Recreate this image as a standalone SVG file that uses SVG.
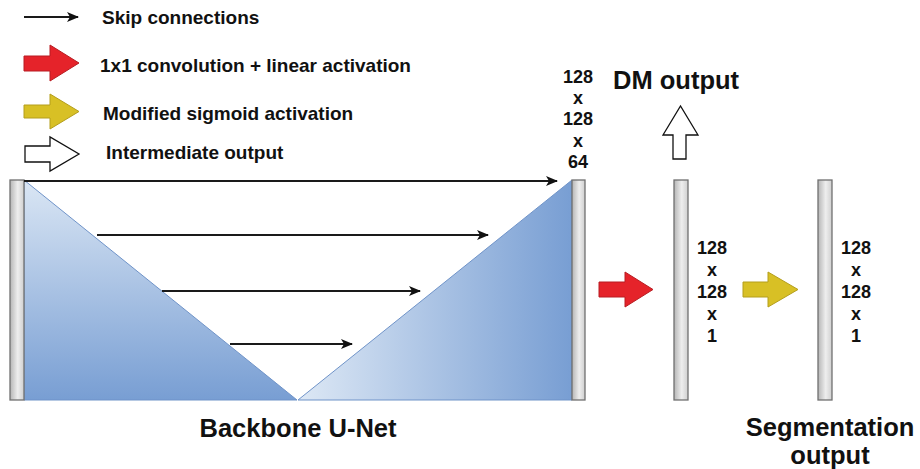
<svg xmlns="http://www.w3.org/2000/svg" width="920" height="469" viewBox="0 0 920 469">
<defs>
<style>
.t{font-family:"Liberation Sans",Arial,sans-serif;font-weight:bold;fill:#111}
.leg{font-size:19px}
.dim{font-size:18px;text-anchor:middle}
.big{font-size:25.5px}
.skip{stroke:#1a1a1a;stroke-width:2;fill:none}
.bar{fill:url(#gBar);stroke:#707070;stroke-width:1.3}
.red{fill:#e5232a;stroke:#b81d22;stroke-width:1}
.yel{fill:#d8c025;stroke:#b49e1c;stroke-width:1}
.wht{fill:#fff;stroke:#111;stroke-width:1.3}
.tri{stroke:#6f93c8;stroke-width:1}
</style>
<linearGradient id="gBar" x1="0" y1="0" x2="1" y2="0">
<stop offset="0" stop-color="#b5b5b5"/>
<stop offset="0.55" stop-color="#eeeeee"/>
<stop offset="1" stop-color="#cfcfcf"/>
</linearGradient>
<linearGradient id="gDown" x1="0" y1="0" x2="0" y2="1">
<stop offset="0" stop-color="#dae6f4"/>
<stop offset="1" stop-color="#789ed3"/>
</linearGradient>
<linearGradient id="gUp" x1="0" y1="0" x2="1" y2="0">
<stop offset="0" stop-color="#dde8f5"/>
<stop offset="1" stop-color="#789ed3"/>
</linearGradient>
<marker id="ah" markerWidth="12" markerHeight="10" refX="11" refY="5" orient="auto" markerUnits="userSpaceOnUse">
<path d="M0,0 L12,5 L0,10 L3,5 Z" fill="#111"/>
</marker>
</defs>
<rect width="920" height="469" fill="#fff"/>

<g id="legend">
<line class="skip" x1="24" y1="17" x2="78" y2="17" marker-end="url(#ah)"/>
<text class="t leg" x="102" y="24">Skip connections</text>
<path class="red" d="M24,56 H50 V45 L79,63 L50,81 V71 H24 Z"/>
<text class="t leg" x="100" y="72">1x1 convolution + linear activation</text>
<path class="yel" d="M24,105 H50 V94 L79,111.5 L50,129 V118 H24 Z"/>
<text class="t leg" x="103" y="120">Modified sigmoid activation</text>
<path class="wht" d="M25,146 H50 V137 L79,154 L50,171 V162 H25 Z"/>
<text class="t leg" x="106" y="159">Intermediate output</text>
</g>

<g id="unet">
<polygon class="tri" points="24,180 24,400 297,400" fill="url(#gDown)"/>
<polygon class="tri" points="298,400 572,180 572,400" fill="url(#gUp)"/>
<rect class="bar" x="10" y="180" width="14" height="220"/>
<rect class="bar" x="572" y="180" width="13" height="220"/>
<text class="t big" x="298" y="437" text-anchor="middle">Backbone U-Net</text>
</g>

<g id="connectors">
<line class="skip" x1="24" y1="181" x2="557" y2="181" marker-end="url(#ah)"/>
<line class="skip" x1="97" y1="235" x2="488" y2="235" marker-end="url(#ah)"/>
<line class="skip" x1="162" y1="291" x2="420" y2="291" marker-end="url(#ah)"/>
<line class="skip" x1="230" y1="344" x2="352" y2="344" marker-end="url(#ah)"/>
<path id="conv-arrow" class="red" d="M599,282 H625 V272 L653,289.5 L625,307 V297 H599 Z"/>
<path id="sig-arrow" class="yel" d="M743,282 H768 V272 L798,289.5 L768,307 V297 H743 Z"/>
<path id="dm-arrow" class="wht" d="M673,159 V135 H663 L680.5,106 L698,135 H686 V159 Z"/>
</g>

<g id="unet-dims">
<text class="t dim" x="578" y="83">128</text>
<text class="t dim" x="578" y="104">x</text>
<text class="t dim" x="578" y="125">128</text>
<text class="t dim" x="578" y="146.5">x</text>
<text class="t dim" x="578" y="168">64</text>
</g>

<g id="dm-layer">
<rect class="bar" x="674" y="180" width="14" height="220"/>
<text class="t dim" x="712" y="254">128</text>
<text class="t dim" x="712" y="276">x</text>
<text class="t dim" x="712" y="298">128</text>
<text class="t dim" x="712" y="320">x</text>
<text class="t dim" x="712" y="342">1</text>
<text class="t big" x="613" y="89">DM output</text>
</g>

<g id="seg-layer">
<rect class="bar" x="818" y="180" width="14" height="220"/>
<text class="t dim" x="856" y="254">128</text>
<text class="t dim" x="856" y="276">x</text>
<text class="t dim" x="856" y="298">128</text>
<text class="t dim" x="856" y="320">x</text>
<text class="t dim" x="856" y="342">1</text>
<text class="t big" x="830" y="436" text-anchor="middle" font-size="25">Segmentation</text>
<text class="t big" x="830" y="464" text-anchor="middle" font-size="25">output</text>
</g>
</svg>
